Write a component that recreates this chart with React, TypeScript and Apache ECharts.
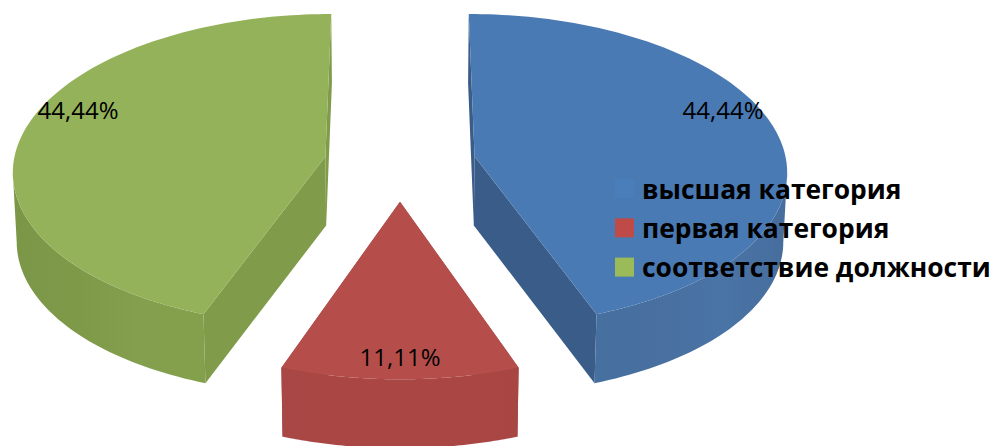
import React, { useEffect, useRef } from "react";
import * as echarts from "echarts";

const categories = ["высшая категория", "первая категория", "соответствие должности"];
const values = [44.44, 11.11, 44.44];
const valueLabels = ["44,44%", "11,11%", "44,44%"];

const colors = [
  { legend: "#4a7ebb", top: "#4a7ab3", radial: "#3a5c89", rim: ["#46709f", "#486f9f", "#4a74a6", "#466d9c"] },
  { legend: "#be4b48", top: "#b54e4b", radial: "#9a4340", rim: ["#a84745", "#aa4744", "#aa4745", "#a84643"] },
  { legend: "#9bbb59", top: "#94b259", radial: "#809c4b", rim: ["#7a9647", "#7e9a49", "#84a04e", "#83a04d"] },
];

// projection of the exploded pie
const W = 992, H = 446;
const VX = 400, VY = 163, R = 312, EXPLODE = 76, TILT = 0.4987, PERSP = 0.0848, DEPTH = 69, SHRINK = 0.99;
const labelCentres = [[723, 109], [400, 356], [78, 109]];

function project(x3: number, z3: number, lower: boolean): number[] {
  const s = 1 / (1 + (PERSP * z3) / R);
  const x = VX + x3 * s;
  const y = VY - z3 * TILT * s;
  return lower ? [VX + (x - VX) * SHRINK, y + DEPTH] : [x, y];
}

const total = values.reduce((a, b) => a + b, 0);

function sliceRenderer(index: number) {
  return (_p: any, api: any) => {
    const v = api.value(0);
    const before = values.slice(0, index).reduce((a, b) => a + b, 0);
    const a0 = (before / total) * 2 * Math.PI;
    const a1 = a0 + (v / total) * 2 * Math.PI;
    const mid = (a0 + a1) / 2;
    const ox = EXPLODE * Math.sin(mid);
    const oz = EXPLODE * Math.cos(mid);
    const steps = 120;
    const top: number[][] = [];
    const low: number[][] = [];
    for (let i = 0; i <= steps; i++) {
      const a = a0 + ((a1 - a0) * i) / steps;
      const X = ox + R * Math.sin(a);
      const Z = oz + R * Math.cos(a);
      top.push(project(X, Z, false));
      low.push(project(X, Z, true));
    }
    // the rim only shows from the widest point of the arc to the front
    let from = 0;
    let to = steps;
    if (Math.abs(ox) > 1) {
      let best = 0;
      top.forEach((p, i) => {
        if ((p[0] - VX) * Math.sign(ox) > (top[best][0] - VX) * Math.sign(ox)) best = i;
      });
      if (ox > 0) from = best;
      else to = best;
    }
    const apexT = project(ox, oz, false);
    const apexL = project(ox, oz, true);
    const c = colors[index];
    const wall = (points: number[][], fill: any) => ({ type: "polygon", shape: { points }, style: { fill } });
    const rimFill = new echarts.graphic.LinearGradient(0, 0, 1, 0, c.rim.map((color, i) => ({ offset: i / (c.rim.length - 1), color })));
    const lc = labelCentres[index];
    return {
      type: "group",
      children: [
        wall([apexT, top[0], low[0], apexL], c.radial),
        wall([apexT, top[steps], low[steps], apexL], c.radial),
        wall([...top.slice(from, to + 1), ...low.slice(from, to + 1).reverse()], rimFill),
        wall([apexT, ...top], c.top),
        {
          type: "text",
          x: lc[0],
          y: lc[1],
          style: {
            text: valueLabels[index],
            fill: "#000",
            font: '24px "Open Sans"',
            align: "center",
            verticalAlign: "middle",
          },
        },
      ],
    };
  };
}

export default function App() {
  const ref = useRef<HTMLDivElement>(null);
  useEffect(() => {
    document.body.style.margin = "0";
    const chart = echarts.init(ref.current!, undefined, { renderer: "svg" });
    chart.setOption({
      animation: false,
      backgroundColor: "#fff",
      legend: {
        orient: "vertical",
        left: 615,
        top: 175,
        itemWidth: 19,
        itemHeight: 19,
        itemGap: 12.3,
        padding: 0,
        selectedMode: false,
        icon: "rect",
        textStyle: {
          color: "#000",
          fontFamily: '"Open Sans"',
          fontWeight: "bold",
          fontSize: 26.4,
          lineHeight: 27,
          padding: [0, 0, 0, 3],
        },
        data: categories.map((name, i) => ({ name, itemStyle: { color: colors[i].legend } })),
      },
      series: categories.map((name, i) => ({
        type: "custom",
        name,
        coordinateSystem: "none",
        itemStyle: { color: colors[i].legend },
        data: [[values[i]]],
        renderItem: sliceRenderer(i),
      })),
    });
    return () => chart.dispose();
  }, []);
  return <div ref={ref} style={{ position: "absolute", left: 0, top: 0, width: W, height: H }} />;
}
